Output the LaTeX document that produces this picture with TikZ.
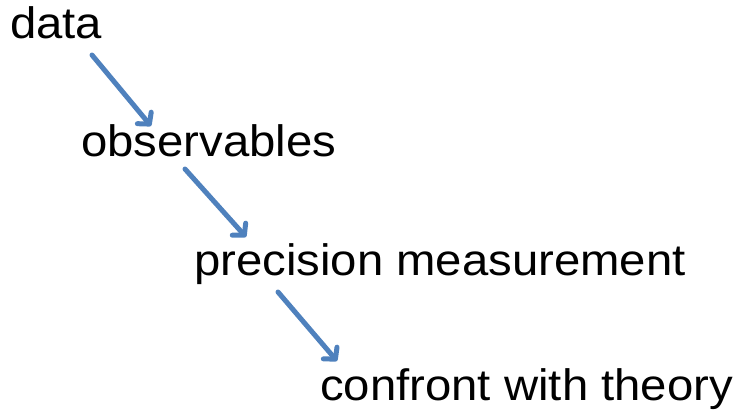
\documentclass[tikz,border=0pt]{standalone}
\usepackage{fontspec}
\setmainfont[FakeStretch=1.075]{Liberation Sans}
\usetikzlibrary{arrows.meta}
\definecolor{arrowblue}{RGB}{79,129,189}
\tikzset{
  lbl/.style={anchor=base west, inner sep=0pt, font=\fontsize{44}{50}\selectfont},
  flow/.style={draw=arrowblue, line width=5pt, line cap=round,
    -{Straight Barb[length=8pt, width=18pt, line cap=round, line join=round]}}
}
\begin{document}
\begin{tikzpicture}[x=1pt,y=1pt]
\useasboundingbox (0,0) rectangle (741,-416);
\node[lbl] (data) at (10,-38) {data};
\node[lbl] (obs) at (81,-156) {observables};
\node[lbl] (prec) at (194,-275) {precision measurement};
\node[lbl] (conf) at (320,-400) {confront with theory};
\coordinate (a1s) at (92,-55);
\coordinate (a1e) at (151,-126);
\coordinate (a2s) at (185,-169);
\coordinate (a2e) at (246,-237);
\coordinate (a3s) at (278,-292);
\coordinate (a3e) at (337,-361);
\draw[flow] (a1s) -- (a1e);
\draw[flow] (a2s) -- (a2e);
\draw[flow] (a3s) -- (a3e);
\end{tikzpicture}
\end{document}
